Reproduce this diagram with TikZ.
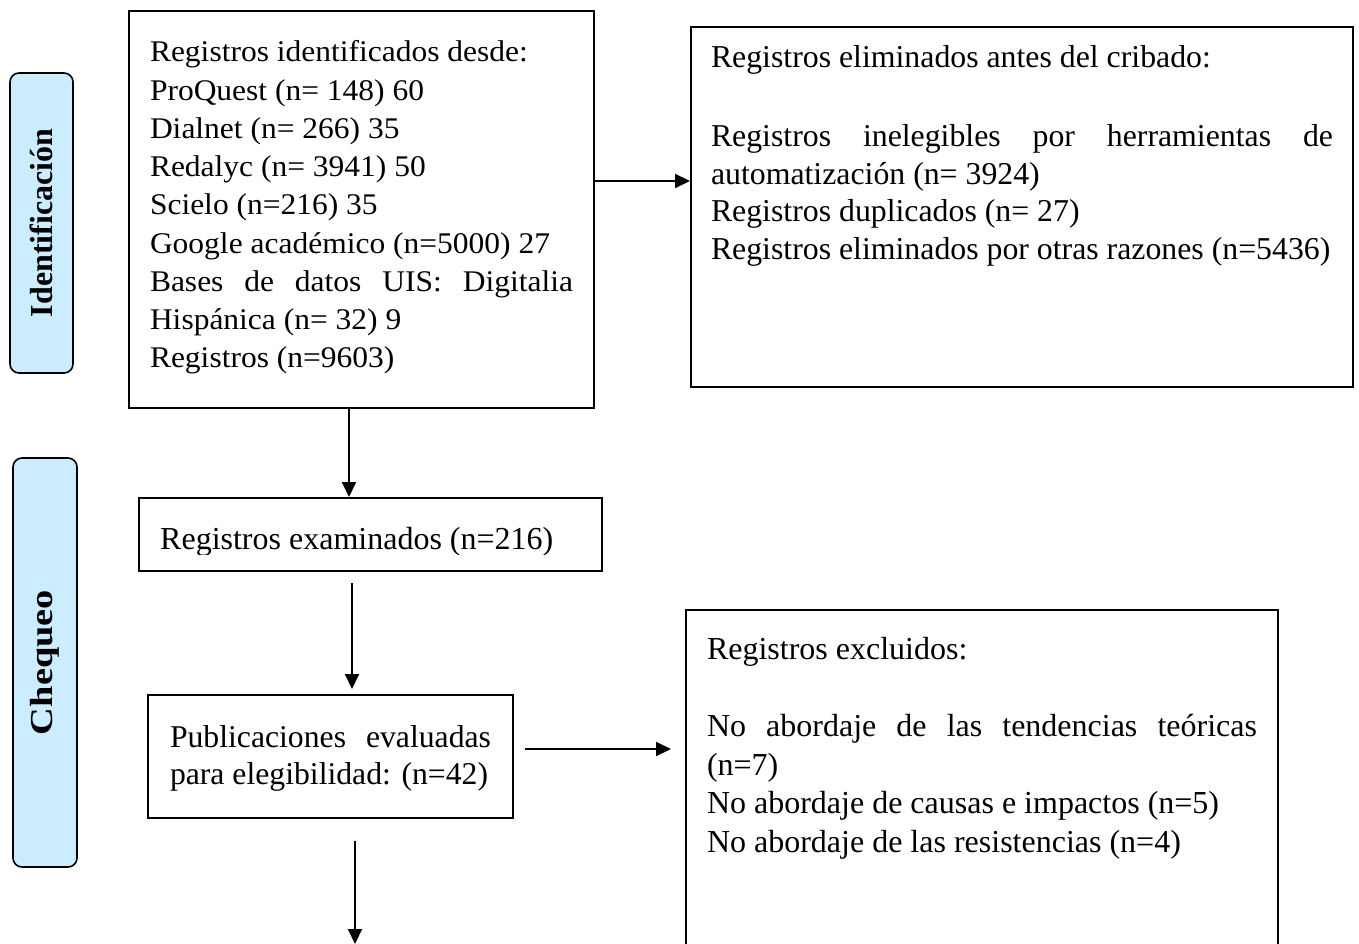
\documentclass[tikz,border=0pt]{standalone}
\usepackage{fontspec}
\setmainfont{Liberation Serif}
\newfontfamily\wideserif[FakeStretch=1.05]{Liberation Serif}
\usetikzlibrary{arrows.meta}
\definecolor{lblue}{RGB}{204,236,255}
\tikzset{
  box/.style={draw, line width=2pt, rectangle, inner ysep=0pt, anchor=center},
  lbl/.style={draw, line width=1.6pt, fill=lblue, rounded corners=9pt, inner sep=0pt,
    font=\fontsize{32}{38}\selectfont\bfseries},
  arr/.style={line width=2pt, -{Triangle[length=15pt,width=14pt]}}
}
\begin{document}
\begin{tikzpicture}[x=1pt,y=-1pt]
\useasboundingbox (0,0) rectangle (1359,944);

% side labels
\node[lbl, minimum width=63pt, minimum height=300pt] (L1) at (41.5,223) {\rotatebox{90}{Identificación}};
\node[lbl, minimum width=64pt, minimum height=409pt] (L2) at (45,662.5) {\rotatebox{90}{\scalebox{1.2}[1]{Chequeo}}};

% box 1
\node[box, inner xsep=21pt] (B1) at (361.5,209.5) {\wideserif\fontsize{30}{38.25}\selectfont\parbox[c][397pt][t]{423pt}{\vspace*{24.2pt}\strut
\mbox{Registros identificados desde:}\\
\mbox{ProQuest (n= 148) 60}\\
\mbox{Dialnet (n= 266) 35}\\
\mbox{Redalyc (n= 3941) 50}\\
\mbox{Scielo (n=216) 35}\\
\mbox{Google académico (n=5000) 27}\\
\makebox[\linewidth][s]{Bases de datos UIS: Digitalia}\\
\mbox{Hispánica (n= 32) 9}\\
\mbox{Registros (n=9603)}}};

% right box 1
\node[box, inner xsep=20pt] (R1) at (1022,207) {\fontsize{31.8}{37.5}\selectfont\parbox[c][360pt][t]{622pt}{\vspace*{14.75pt}\strut
\mbox{Registros eliminados antes del cribado:}\\[41.5pt]
\makebox[\linewidth][s]{Registros inelegibles por herramientas de}\\
\mbox{automatización (n= 3924)}\\
\mbox{Registros duplicados (n= 27)}\\
\mbox{Registros eliminados por otras razones (n=5436)}}};

% box 2
\node[box, minimum width=463pt, minimum height=73pt, inner sep=0pt] (B2) at (370.5,534.5) {};
\begin{scope}
\clip (139,498) rectangle (602,554);
\node[anchor=base west, inner sep=0pt, font=\fontsize{32}{38}\selectfont] (T2) at (160,549) {Registros examinados (n=216)};
\end{scope}

% box 3
\node[box, inner xsep=22pt] (B3) at (330.5,756.5) {\fontsize{31.7}{37}\selectfont\parbox[c][123pt][t]{321pt}{\vspace*{26.1pt}\strut
\makebox[\linewidth][s]{Publicaciones evaluadas}\\
\mbox{para elegibilidad: (n=42)}}};

% right box 3
\node[box, inner xsep=21pt] (R3) at (982,780) {\fontsize{32}{38.5}\selectfont\parbox[c][340pt][t]{550pt}{\vspace*{23pt}\strut
\mbox{Registros excluidos:}\\[38.5pt]
\makebox[\linewidth][s]{No abordaje de las tendencias teóricas}\\
\mbox{(n=7)}\\
\mbox{No abordaje de causas e impactos (n=5)}\\
\mbox{No abordaje de las resistencias (n=4)}}};

% connectors
\coordinate (ya) at (0,181);
\draw[arr] (B1.east |- ya) -- (R1.west |- ya);
\coordinate (xa) at (349,0);
\draw[arr] (B1.south -| xa) -- (B2.north -| xa);
\coordinate (xb) at (352,0);
\draw[arr, shorten <=11pt, shorten >=5pt] (B2.south -| xb) -- (B3.north -| xb);
\coordinate (yc) at (0,749);
\draw[arr, shorten <=11pt, shorten >=14pt] (B3.east |- yc) -- (R3.west |- yc);
\coordinate (xd) at (355,0);
\coordinate (endd) at (355,944);
\draw[arr, shorten <=22pt] (B3.south -| xd) -- (endd);
\end{tikzpicture}
\end{document}
